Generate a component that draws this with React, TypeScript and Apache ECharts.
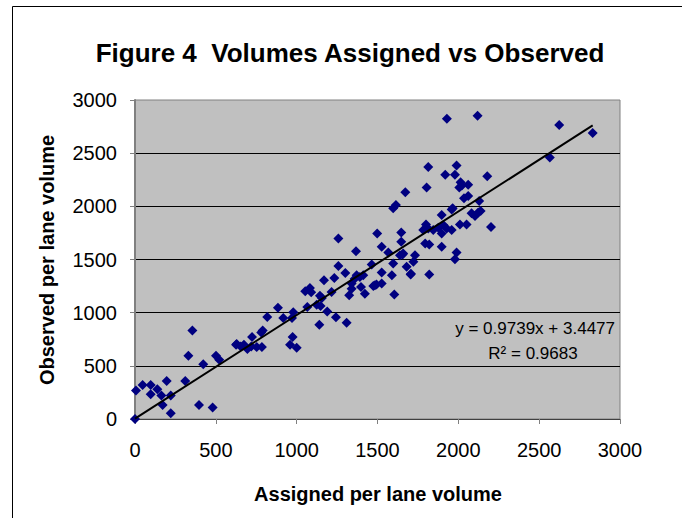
import React, { useEffect, useRef } from "react";
import * as echarts from "echarts";

const assigned = [
  0, 6, 47, 97, 97, 138, 163, 171, 196, 221, 221, 311, 330, 355, 396, 422, 480, 501, 521,
  625, 629, 654, 674, 695, 724, 719, 753, 781, 790, 785, 818, 884, 917, 971, 979, 975, 959,
  1000, 1053, 1082, 1090, 1066, 1124, 1140,
  1148, 1156, 1189, 1169, 1216, 1233, 1243, 1258, 1258, 1301, 1309, 1325, 1340, 1367, 1359,
  1371, 1398, 1412, 1422, 1464, 1474, 1498, 1494, 1526, 1526, 1526, 1567, 1589, 1597, 1604,
  1597, 1614, 1672, 1647, 1647, 1639, 1659, 1680, 1705, 1732, 1722, 1804, 1800, 1795, 1820,
  1820, 1783, 1814, 1845, 1876, 1897, 1907, 1928, 1897, 1959, 1965, 1897, 1989, 1979,
  1929, 2119, 2624, 2831, 2566, 1814, 1989, 1919, 1979, 2179, 2014, 2022, 2061, 2006, 2035,
  2061, 2129, 1959, 2082, 2103, 2138, 2123, 2010, 2051, 2202, 1655, 1707,
  1391, 1340, 1484, 1144,
];
const observed = [
  0, 267, 320, 320, 233, 280, 220, 132, 358, 220, 54, 358, 594, 833, 132, 516, 107, 594, 557,
  698, 705, 682, 698, 658, 771, 682, 676, 814, 833, 676, 959, 1047, 950, 950, 1003, 771, 698,
  670, 1201, 1233, 1192, 1054, 1075, 887,
  1063, 1138, 1012, 1305, 1195, 1327, 956, 1698, 1440, 1374, 906, 1163, 1226, 1578, 1320,
  1352, 1242, 1352, 1179, 1452, 1251, 1745, 1264, 1620, 1377, 1274, 1566, 1352, 1462, 1170,
  1981, 2012, 2132, 1755, 1667, 1541, 1557, 1431, 1358, 1541, 1478, 2176, 1830, 1651, 1642,
  1358, 1777, 1792, 1777, 1799, 1918, 1824, 1792, 1745, 1777, 1981, 1620, 1566, 1503,
  2823, 2852, 2764, 2689, 2459, 2371, 2384, 2296, 2296, 2283, 2226, 2195, 2204, 2176, 2075,
  2097, 2049, 1971, 1934, 1909, 1956, 1943, 1830, 1830, 1805, 1547, 1365,
  1336, 1274, 1257, 1160,
];

const slope = 0.9739;
const intercept = 3.4477;
const trendRange = [0, 2831];
const axisTicks = [0, 500, 1000, 1500, 2000, 2500, 3000];

const titleText = "Figure 4  Volumes Assigned vs Observed";
const xTitle = "Assigned per lane volume";
const yTitle = "Observed per lane volume";
const eqText = "y = 0.9739x + 3.4477";
const r2Text = "R² = 0.9683";

const FONT = "'Liberation Sans', Arial, sans-serif";

export default function App() {
  const ref = useRef<HTMLDivElement>(null);
  useEffect(() => {
    if (!ref.current) return;
    const chart = echarts.init(ref.current, undefined, { renderer: "svg" });
    const pts = assigned.map((x, i) => [x, observed[i]]);
    const trend = trendRange.map((x) => [x, slope * x + intercept]);
    const axisMin = axisTicks[0];
    const axisMax = axisTicks[axisTicks.length - 1];
    const step = axisTicks[1] - axisTicks[0];
    const fmt = (v: number) => String(v);
    chart.setOption({
      animation: false,
      backgroundColor: "#ffffff",
      grid: {
        left: 135,
        top: 100,
        width: 485,
        height: 319,
        show: true,
        backgroundColor: "#C0C0C0",
        borderColor: "#808080",
        borderWidth: 1,
      },
      xAxis: {
        type: "value",
        min: axisMin,
        max: axisMax,
        interval: step,
        axisLine: { show: true, lineStyle: { color: "#404040", width: 1 } },
        axisTick: { show: true, inside: false, length: 5, lineStyle: { color: "#808080" } },
        axisLabel: { fontSize: 20, color: "#000", fontFamily: FONT, margin: 21, formatter: fmt },
        splitLine: { show: false },
      },
      yAxis: {
        type: "value",
        min: axisMin,
        max: axisMax,
        interval: step,
        axisLine: { show: true, lineStyle: { color: "#808080", width: 2 } },
        axisTick: { show: true, inside: false, length: 5, lineStyle: { color: "#808080" } },
        axisLabel: { fontSize: 20, color: "#000", fontFamily: FONT, margin: 18, formatter: fmt },
        splitLine: { show: true, showMaxLine: false, showMinLine: false, lineStyle: { color: "#000", width: 1 } },
      },
      series: [
        {
          type: "scatter",
          data: pts,
          symbol: "diamond",
          symbolSize: 10,
          itemStyle: { color: "#000080", opacity: 1 },
          z: 2,
        },
        {
          type: "line",
          data: trend,
          symbol: "none",
          lineStyle: { color: "#000", width: 2 },
          z: 3,
        },
      ],
      graphic: [
        {
          type: "rect",
          shape: { x: 12.5, y: 6.5, width: 700, height: 600 },
          style: { fill: "none", stroke: "#000", lineWidth: 1 },
          silent: true,
        },
        {
          type: "text",
          x: 350,
          y: 53,
          style: { text: titleText, font: `bold 26px ${FONT}`, fill: "#000", textAlign: "center", textVerticalAlign: "middle" },
        },
        {
          type: "text",
          x: 378,
          y: 494,
          style: { text: xTitle, font: `bold 20px ${FONT}`, fill: "#000", textAlign: "center", textVerticalAlign: "middle" },
        },
        {
          type: "text",
          x: 47,
          y: 260,
          rotation: Math.PI / 2,
          style: { text: yTitle, font: `bold 20px ${FONT}`, fill: "#000", textAlign: "center", textVerticalAlign: "middle" },
        },
        {
          type: "text",
          x: 615,
          y: 328,
          style: { text: eqText, font: `17px ${FONT}`, fill: "#000", textAlign: "right", textVerticalAlign: "middle" },
        },
        {
          type: "text",
          x: 533,
          y: 353,
          style: { text: r2Text, font: `17px ${FONT}`, fill: "#000", textAlign: "center", textVerticalAlign: "middle" },
        },
      ],
    });
    return () => chart.dispose();
  }, []);
  return <div ref={ref} style={{ position: "absolute", left: 0, top: 0, width: 682, height: 518 }} />;
}
